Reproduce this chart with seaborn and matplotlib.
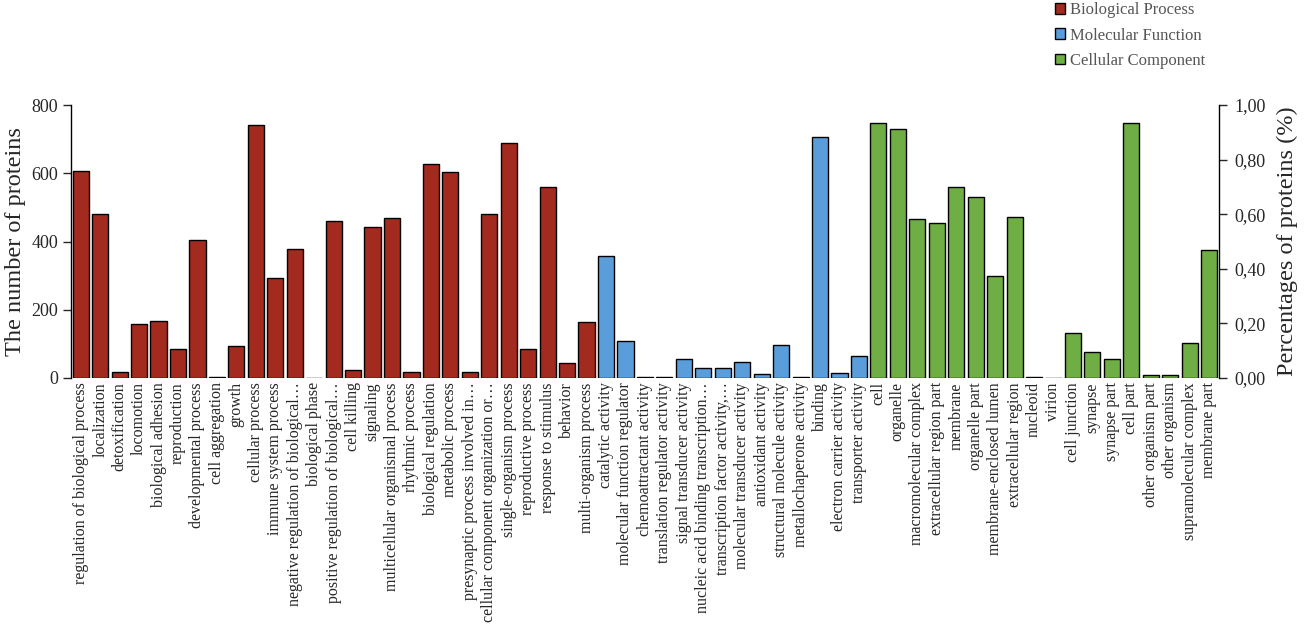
import numpy as np
import pandas as pd
import seaborn as sns
import matplotlib.pyplot as plt
from matplotlib.patches import Patch
from matplotlib.ticker import FuncFormatter

# GO terms and protein counts
bp_terms = ["regulation of biological process", "localization", "detoxification", "locomotion",
            "biological adhesion", "reproduction", "developmental process", "cell aggregation",
            "growth", "cellular process", "immune system process",
            "negative regulation of biological\u2026", "biological phase",
            "positive regulation of biological\u2026", "cell killing", "signaling",
            "multicellular organismal process", "rhythmic process", "biological regulation",
            "metabolic process", "presynaptic process involved in\u2026",
            "cellular component organization or\u2026", "single-organism process",
            "reproductive process", "response to stimulus", "behavior", "multi-organism process"]
bp_counts = [607, 481, 18, 157, 167, 85, 405, 4, 93, 741, 293, 377, 1, 461, 23, 443,
             468, 18, 628, 603, 17, 480, 688, 85, 561, 44, 164]

mf_terms = ["catalytic activity", "molecular function regulator", "chemoattractant activity",
            "translation regulator activity", "signal transducer activity",
            "nucleic acid binding transcription\u2026", "transcription factor activity,\u2026",
            "molecular transducer activity", "antioxidant activity",
            "structural molecule activity", "metallochaperone activity", "binding",
            "electron carrier activity", "transporter activity"]
mf_counts = [358, 107, 4, 2, 57, 30, 28, 47, 13, 96, 2, 705, 15, 64]

cc_terms = ["cell", "organelle", "macromolecular complex", "extracellular region part",
            "membrane", "organelle part", "membrane-enclosed lumen", "extracellular region",
            "nucleoid", "virion", "cell junction", "synapse", "synapse part", "cell part",
            "other organism part", "other organism", "supramolecular complex", "membrane part"]
cc_counts = [747, 729, 465, 455, 560, 529, 300, 473, 4, 1, 132, 75, 56, 747, 9, 9, 103, 375]

categories = ["Biological Process", "Molecular Function", "Cellular Component"]
colors = ["#A32A1E", "#5A9DDB", "#6FAE45"]

terms = bp_terms + mf_terms + cc_terms
df = pd.DataFrame({
    "term": terms,
    "count": bp_counts + mf_counts + cc_counts,
    "category": [categories[0]] * len(bp_terms) + [categories[1]] * len(mf_terms)
                + [categories[2]] * len(cc_terms),
})

sns.set_style("white")
plt.rcParams["font.family"] = ["Liberation Serif", "DejaVu Serif"]

fig = plt.figure(figsize=(13.05, 6.3), dpi=100)
ax = fig.add_axes([0.0544, 0.4, 0.8796, 0.4333])

sns.barplot(data=df, x="term", y="count", hue="category", hue_order=categories,
            palette=colors, dodge=False, width=0.83, saturation=1,
            edgecolor="black", linewidth=1, legend=False, ax=ax)

ax.set_xlim(-0.5, len(terms) - 0.5)
ax.set_ylim(0, 800)
ax.set_yticks([0, 200, 400, 600, 800])
ax.set_xticks(range(len(terms)))
ax.set_xticklabels(terms, rotation=90, fontsize=11.5)
ax.set_xlabel("")
ax.set_ylabel("The number of proteins", fontsize=17.5, labelpad=4)
ax.tick_params(axis="x", length=0, pad=3)
ax.tick_params(axis="y", direction="out", length=6, width=1, labelsize=13, left=True, pad=3)
for s in ["top", "bottom", "right"]:
    ax.spines[s].set_visible(False)
ax.spines["left"].set_color("black")
ax.spines["left"].set_linewidth(1)

ax2 = ax.twinx()
ax2.set_ylim(0, 1)
ax2.set_yticks([0, 0.2, 0.4, 0.6, 0.8, 1.0])
ax2.yaxis.set_major_formatter(FuncFormatter(lambda v, p: f"{v:.2f}".replace(".", ",")))
ax2.set_ylabel("Percentages of proteins (%)", fontsize=17.5, labelpad=8)
ax2.tick_params(axis="y", direction="out", length=6, width=1, labelsize=13, right=True, pad=5)
for s in ["top", "bottom", "left"]:
    ax2.spines[s].set_visible(False)
ax2.spines["right"].set_color("black")
ax2.spines["right"].set_linewidth(1)

handles = [Patch(facecolor=c, edgecolor="black", linewidth=1) for c in colors]
fig.legend(handles, categories, loc="upper left", bbox_to_anchor=(1040 / 1305, 1.02),
           frameon=False, fontsize=12, handlelength=0.6, handleheight=0.6,
           handletextpad=0.3, labelspacing=0.55, labelcolor="#555555")

fig.savefig("out.png", dpi=100)
